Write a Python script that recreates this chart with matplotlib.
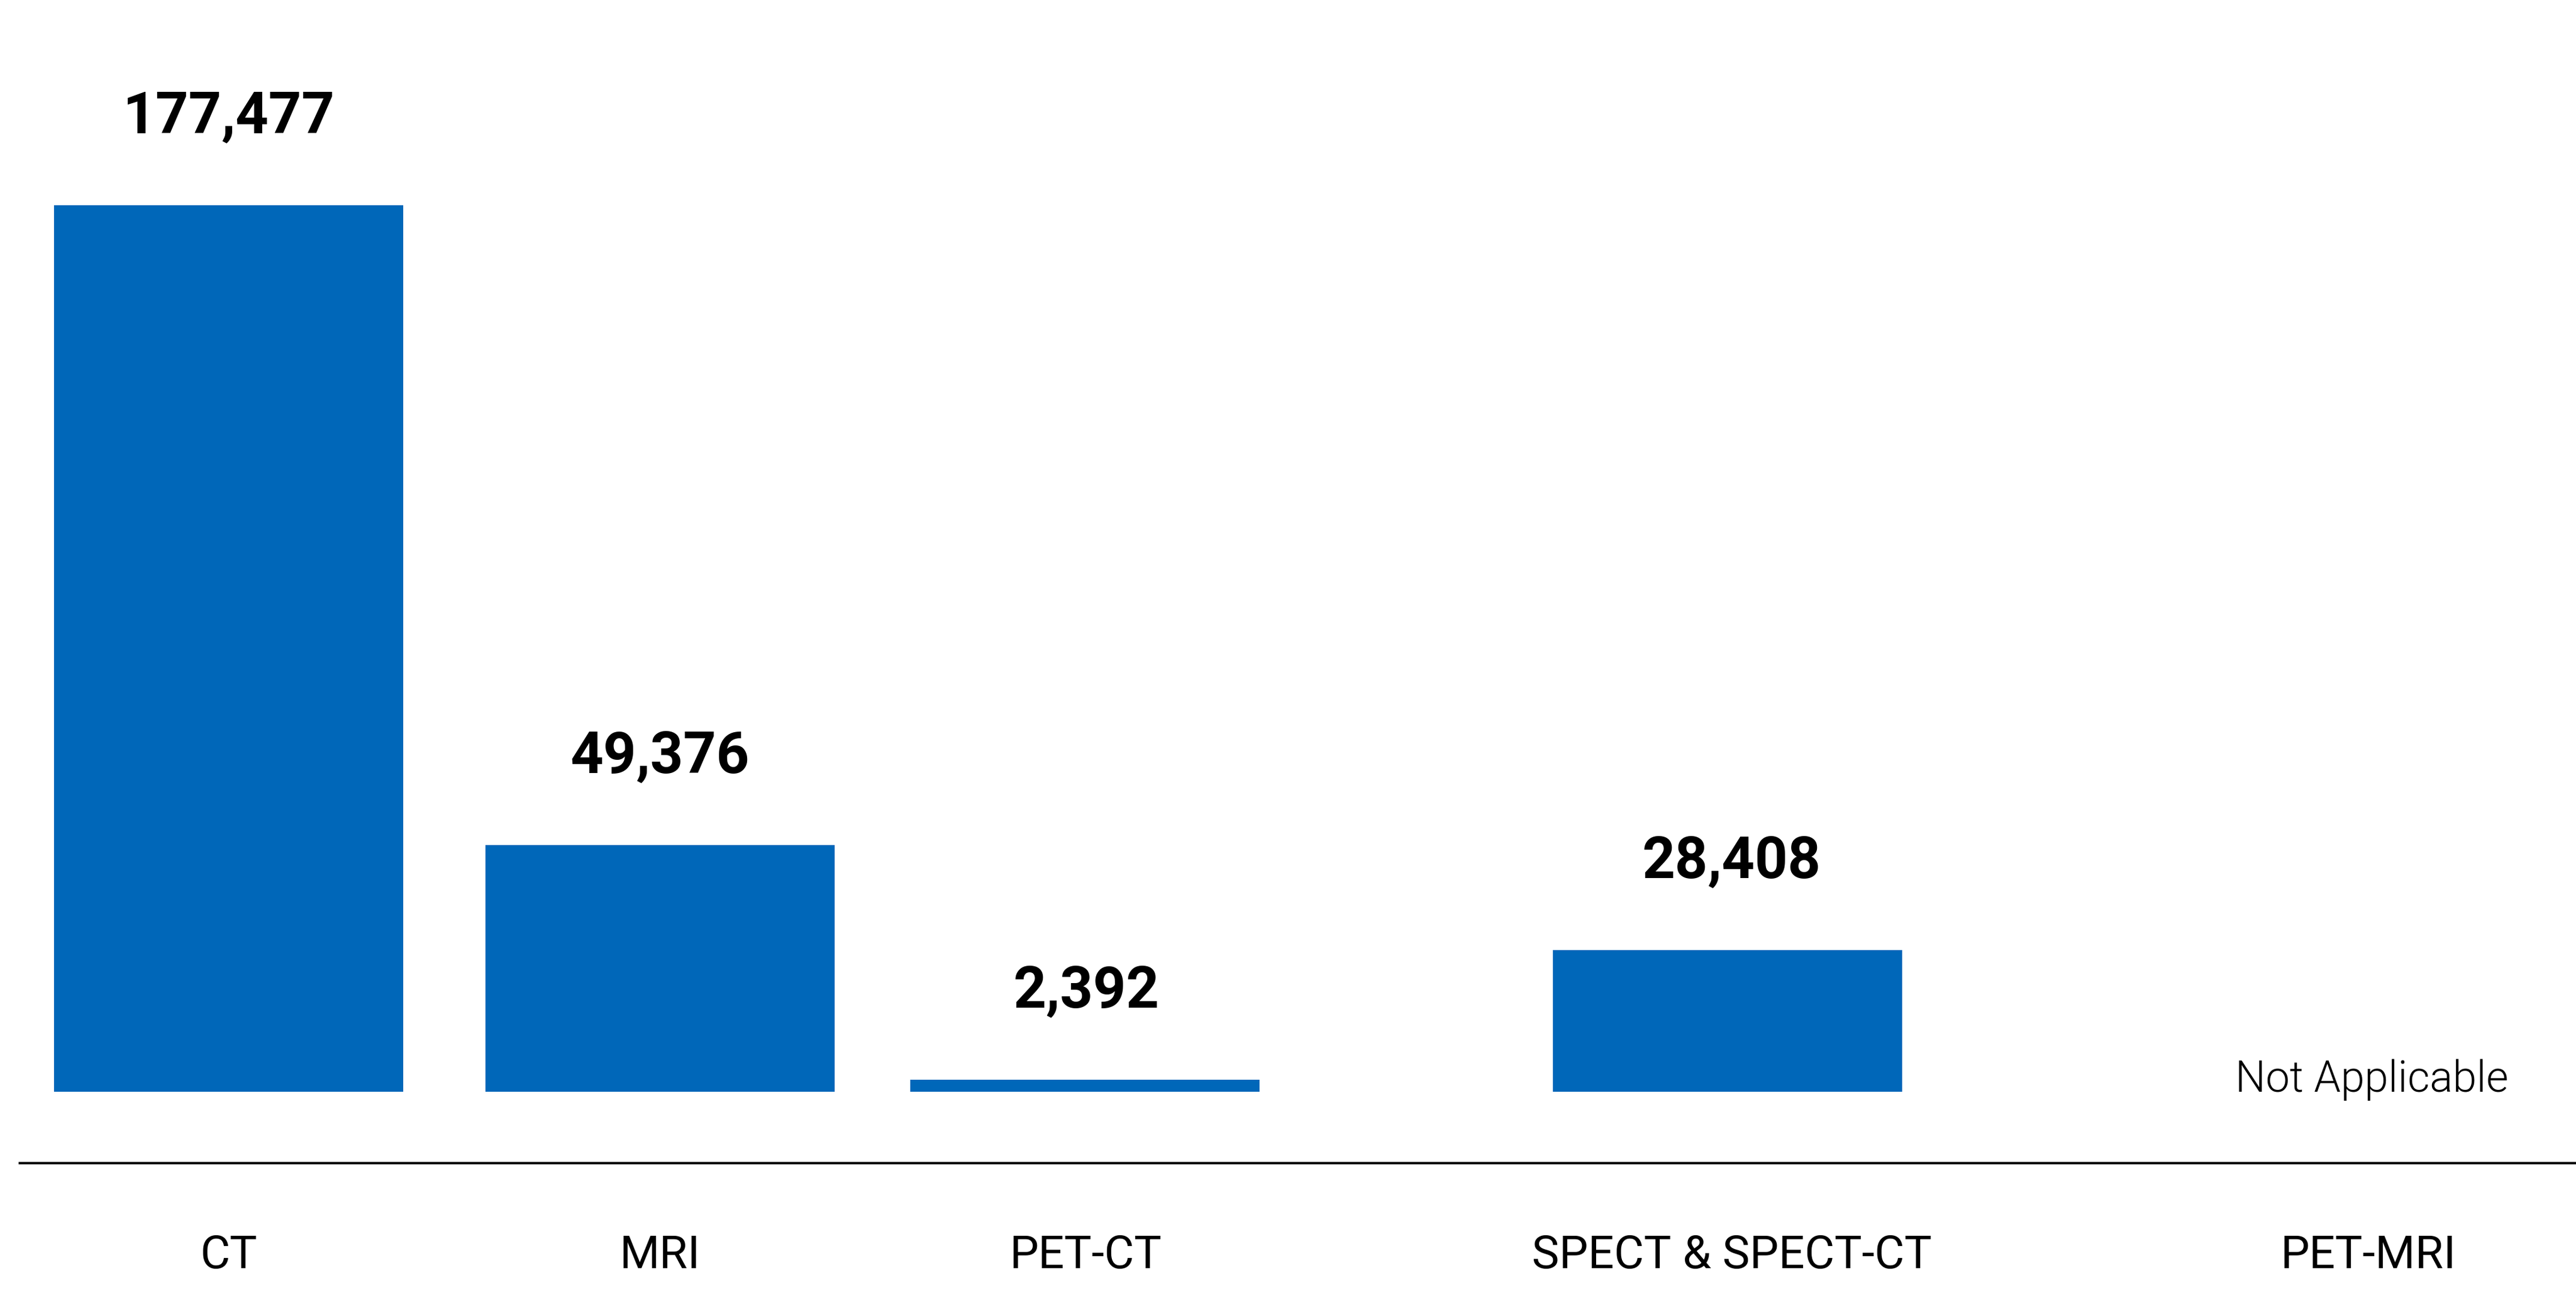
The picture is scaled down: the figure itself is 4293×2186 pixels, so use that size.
import matplotlib
matplotlib.use("Agg")
import matplotlib.pyplot as plt
from matplotlib.lines import Line2D

# data
categories = ["CT", "MRI", "PET-CT", "SPECT & SPECT-CT", "PET-MRI"]
values = [177477, 49376, 2392, 28408, None]
missing_label = "Not Applicable"

# layout (figure pixels, 100 dpi)
W, H = 4293, 2186
slot_x = [381, 1100, 1808, 2879, 3947]
label_x = [381, 1100, 1810, 2886, 3947]
bar_w = 582
bar_color = "#0067b9"

plt.rcParams["font.family"] = ["Roboto", "DejaVu Sans"]

fig = plt.figure(figsize=(W / 100, H / 100), dpi=100)
ax = fig.add_axes([0, 0, 1, 1])
ax.set_xlim(0, W)
ax.set_ylim(-44100, 218600)
ax.axis("off")

for x, lx, v, name in zip(slot_x, label_x, values, categories):
    if v is None:
        ax.text(x + 6, 0, missing_label, ha="center", va="baseline",
                fontsize=51.5, fontweight=300, color="black")
    else:
        ax.bar(x, v, width=bar_w, color=bar_color, linewidth=0)
        ax.annotate(f"{v:,}", (lx, v), xytext=(0, 87), textcoords="offset points",
                    ha="center", va="baseline", fontsize=69, fontweight="bold",
                    color="black")
    ax.text(lx, 73 / H, name, transform=ax.get_xaxis_transform(),
            ha="center", va="baseline", fontsize=55, color="black")

# baseline rule under the bars
fig.add_artist(Line2D([33 / W, 1], [248 / H, 248 / H], lw=2.9, color="black"))

fig.savefig("out.png", dpi=100, facecolor="white")
